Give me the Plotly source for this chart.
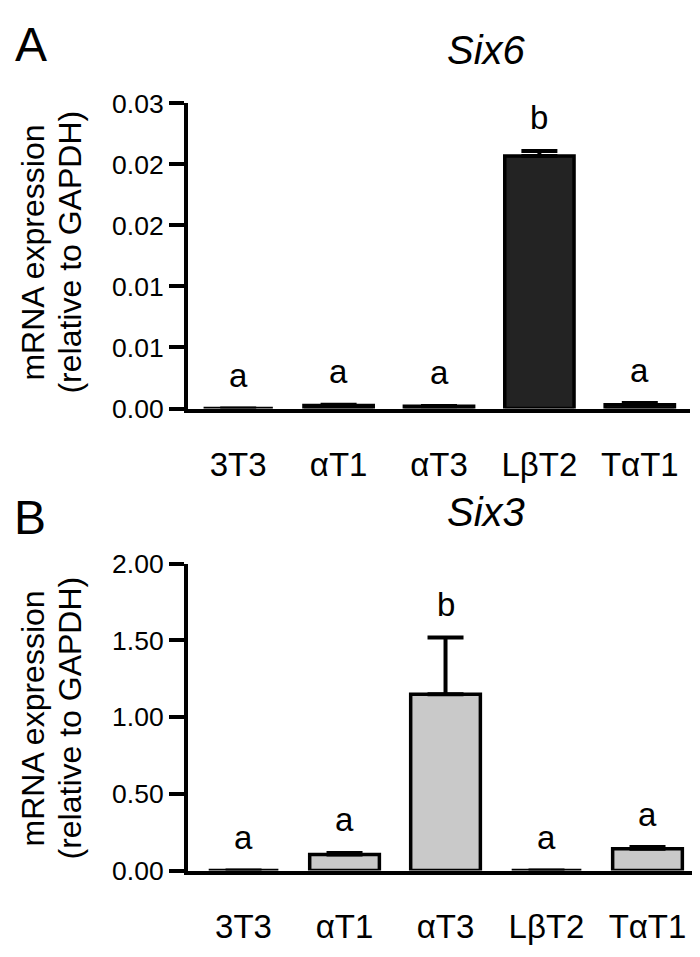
import plotly.graph_objects as go

categories = ["3T3", "αT1", "αT3", "LβT2", "TαT1"]

six6_mean = [0.0, 0.00024, 0.00018, 0.0207, 0.0003]
six6_err = [0.0, 0.00006, 0.00003, 0.0004, 0.00015]
six6_letters = ["a", "a", "a", "b", "a"]
six6_tickvals = [0, 0.005, 0.01, 0.015, 0.02, 0.025]
six6_ticktext = ["0.00", "0.01", "0.01", "0.02", "0.02", "0.03"]

six3_mean = [0.0, 0.105, 1.148, 0.0, 0.142]
six3_err = [0.0, 0.01, 0.37, 0.0, 0.011]
six3_letters = ["a", "a", "b", "a", "a"]
six3_tickvals = [0, 0.5, 1.0, 1.5, 2.0]
six3_ticktext = ["0.00", "0.50", "1.00", "1.50", "2.00"]

ylabel_lines = ["mRNA expression", "(relative to GAPDH)"]

W, H = 700, 957
FONT = "Arial, Liberation Sans, Helvetica, sans-serif"


def py(px):
    return 1 - px / H


fig = go.Figure()

fig.add_trace(go.Bar(
    x=list(range(len(categories))), y=six6_mean, width=0.69,
    marker=dict(color="#232323", line=dict(color="black", width=3.5)),
    error_y=dict(type="data", array=six6_err, arrayminus=[0] * len(six6_err),
                 symmetric=False, color="black", thickness=4, width=18),
    xaxis="x", yaxis="y", showlegend=False,
))
fig.add_trace(go.Bar(
    x=list(range(len(categories))), y=six3_mean, width=0.69,
    marker=dict(color="#c9c9c9", line=dict(color="black", width=3.5)),
    error_y=dict(type="data", array=six3_err, arrayminus=[0] * len(six3_err),
                 symmetric=False, color="black", thickness=4, width=18),
    xaxis="x2", yaxis="y2", showlegend=False,
))

axis_common = dict(showline=True, linecolor="black", linewidth=4, showgrid=False,
                   zeroline=False)

fig.update_layout(
    width=W, height=H, margin=dict(l=0, r=0, t=0, b=0),
    plot_bgcolor="white", paper_bgcolor="white",
    font=dict(family=FONT, color="black"),
    xaxis=dict(domain=[180 / W, 682 / W], range=[-0.5, 4.5], anchor="y",
               tickvals=list(range(len(categories))), ticktext=categories,
               ticks="", ticklabelstandoff=24, tickfont=dict(size=33), **axis_common),
    yaxis=dict(domain=[py(398), py(83)], range=[0, 0.025], anchor="x",
               tickvals=six6_tickvals, ticktext=six6_ticktext,
               ticks="outside", ticklen=15, tickwidth=4, tickcolor="black",
               tickfont=dict(size=26.5), **axis_common),
    xaxis2=dict(domain=[180 / W, 690 / W], range=[-0.55, 4.5], anchor="y2",
                tickvals=list(range(len(categories))), ticktext=categories,
                ticks="", ticklabelstandoff=24, tickfont=dict(size=33), **axis_common),
    yaxis2=dict(domain=[py(875), py(558)], range=[0, 2.0], anchor="x2",
                tickvals=six3_tickvals, ticktext=six3_ticktext,
                ticks="outside", ticklen=15, tickwidth=4, tickcolor="black",
                tickfont=dict(size=26.5), **axis_common),
)

annotations = []
for i, (m, e, t) in enumerate(zip(six6_mean, six6_err, six6_letters)):
    annotations.append(dict(x=i, y=m + e, xref="x", yref="y", text=t, showarrow=False,
                            yanchor="middle", yshift=33, font=dict(size=33)))
for i, (m, e, t) in enumerate(zip(six3_mean, six3_err, six3_letters)):
    annotations.append(dict(x=i, y=m + e, xref="x2", yref="y2", text=t, showarrow=False,
                            yanchor="middle", yshift=33, font=dict(size=33)))

annotations += [
    dict(x=478 / W, y=py(28), xref="paper", yref="paper", text="<i>Six6</i>",
         showarrow=False, xanchor="center", yanchor="middle", font=dict(size=40)),
    dict(x=478 / W, y=py(505), xref="paper", yref="paper", text="<i>Six3</i>",
         showarrow=False, xanchor="center", yanchor="middle", font=dict(size=40)),
    dict(x=23 / W, y=py(22), xref="paper", yref="paper", text="A",
         showarrow=False, xanchor="center", yanchor="middle", font=dict(size=48)),
    dict(x=22 / W, y=py(510), xref="paper", yref="paper", text="B",
         showarrow=False, xanchor="center", yanchor="middle", font=dict(size=48)),
]
for yc in (237, 718):
    for xc, line in zip((25, 62), ylabel_lines):
        annotations.append(dict(x=xc / W, y=py(yc), xref="paper", yref="paper",
                                text=line, textangle=-90, showarrow=False,
                                xanchor="center", yanchor="middle", font=dict(size=32)))
fig.update_layout(annotations=annotations)

fig.write_html("out.html")
